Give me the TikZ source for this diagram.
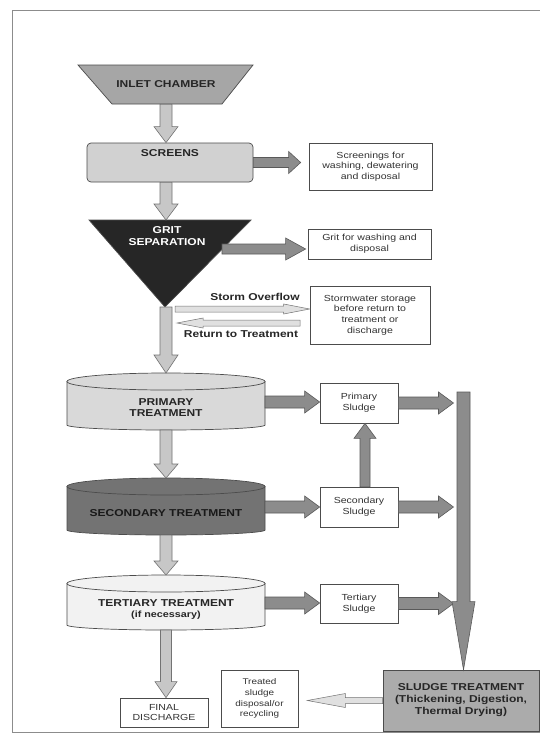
\documentclass[tikz,border=0pt]{standalone}
\usepackage{fontspec}
\setmainfont{Liberation Sans}[FakeStretch=1.2]
\usetikzlibrary{calc}

% block arrows: #1 from, #2 to, #3 shaft half width, #4 head half width, #5 head length, #6 style
\newcommand\arrD[6]{\path[#6] let \p1=(#1), \p2=(#2) in
 ({\x1-#3},\y1) -- ({\x1-#3},{\y2+#5}) -- ({\x1-#4},{\y2+#5}) -- (\x1,\y2) -- ({\x1+#4},{\y2+#5}) -- ({\x1+#3},{\y2+#5}) -- ({\x1+#3},\y1) -- cycle;}
\newcommand\arrU[6]{\path[#6] let \p1=(#1), \p2=(#2) in
 ({\x1-#3},\y1) -- ({\x1-#3},{\y2-#5}) -- ({\x1-#4},{\y2-#5}) -- (\x1,\y2) -- ({\x1+#4},{\y2-#5}) -- ({\x1+#3},{\y2-#5}) -- ({\x1+#3},\y1) -- cycle;}
\newcommand\arrR[6]{\path[#6] let \p1=(#1), \p2=(#2) in
 (\x1,{\y1+#3}) -- ({\x2-#5},{\y1+#3}) -- ({\x2-#5},{\y1+#4}) -- (\x2,\y1) -- ({\x2-#5},{\y1-#4}) -- ({\x2-#5},{\y1-#3}) -- (\x1,{\y1-#3}) -- cycle;}
\newcommand\arrL[6]{\path[#6] let \p1=(#1), \p2=(#2) in
 (\x1,{\y1+#3}) -- ({\x2+#5},{\y1+#3}) -- ({\x2+#5},{\y1+#4}) -- (\x2,\y1) -- ({\x2+#5},{\y1-#4}) -- ({\x2+#5},{\y1-#3}) -- (\x1,{\y1-#3}) -- cycle;}

\tikzset{
 lbl/.style={font=\bfseries\fontsize{10}{11.5}\selectfont, align=center, inner sep=0pt, text=black!85},
 small/.style={font=\fontsize{8.8}{10.6}\selectfont, align=center, inner sep=0pt, text=black!80},
 box/.style={draw=black!70, line width=0.7pt, fill=white, inner sep=0pt, align=center},
 shapeline/.style={draw=black!70, line width=0.7pt},
 colarrow/.style={fill=black!22, draw=black!55, line width=0.6pt},
 sarrow/.style={fill=black!45, draw=black!65, line width=0.6pt},
 thinarrow/.style={fill=black!12, draw=black!55, line width=0.5pt},
}

\begin{document}
\begin{tikzpicture}[x=1pt,y=-1pt]
\useasboundingbox (0,0) rectangle (540,734);
\fill[white] (0,0) rectangle (540,734);
% frame
\draw[black!45, line width=1.2pt] (541,10.5) -- (12.5,10.5) -- (12.5,732.5) -- (541,732.5);

% ---- shapes ----
\filldraw[shapeline, fill=black!35] (78,65) -- (253,65) -- (222,104) -- (112,104) -- cycle;
\node[lbl, minimum width=110pt, minimum height=39pt] (inlet) at (166,84.5) {INLET CHAMBER};

\node[draw=black!70, line width=0.7pt, fill=black!18, rounded corners=4pt, minimum width=166pt, minimum height=39pt, inner sep=0pt] (screens) at (170,162.5) {};
\node[lbl] (screenstxt) at (170,153) {SCREENS};

\filldraw[shapeline, fill=black!85] (89,220) -- (251,220) -- (165,307) -- cycle;
\coordinate (grittop) at (166,220);
\coordinate (gritapex) at (166,307);
\coordinate (gritR) at (222,249);
\node[lbl, text=white] (grit) at (167,236) {GRIT\\SEPARATION};

% cylinders
\filldraw[shapeline, fill=black!15] (67,381.5) -- (67,425) arc[start angle=180, end angle=0, x radius=99, y radius=5] -- (265,381.5) -- cycle;
\filldraw[shapeline, fill=black!15] (166,381.5) ellipse [x radius=99, y radius=8.5];
\coordinate (primtop) at (166,373);
\coordinate (primbot) at (166,430);
\node[lbl] (prim) at (166,407.5) {PRIMARY\\TREATMENT};

\filldraw[shapeline, fill=black!55] (67,486.5) -- (67,530) arc[start angle=180, end angle=0, x radius=99, y radius=5] -- (265,486.5) -- cycle;
\filldraw[shapeline, fill=black!55] (166,486.5) ellipse [x radius=99, y radius=8.5];
\coordinate (sectop) at (166,478);
\coordinate (secbot) at (166,535);
\node[lbl, text=black!90] (sec) at (166,513) {SECONDARY TREATMENT};

\filldraw[shapeline, fill=black!5] (67,583.5) -- (67,625) arc[start angle=180, end angle=0, x radius=99, y radius=5] -- (265,583.5) -- cycle;
\filldraw[shapeline, fill=black!5] (166,583.5) ellipse [x radius=99, y radius=8.5];
\coordinate (tertop) at (166,575);
\coordinate (terbot) at (166,630);
\node[lbl] (ter) at (166,603) {TERTIARY TREATMENT};
\node[lbl, font=\bfseries\fontsize{9}{10}\selectfont] (tern) at (166,615.5) {(if necessary)};

% boxes
\node[box, minimum width=123pt, minimum height=47pt] (scrbox) at (370.5,166.5) {};
\node[small] at (scrbox) {Screenings for\\washing, dewatering\\and disposal};
\node[box, minimum width=123pt, minimum height=30pt] (gritbox) at (369.5,244) {};
\node[small] at (gritbox) {Grit for washing and\\disposal};
\node[box, minimum width=120pt, minimum height=58pt] (storm) at (370,315) {};
\node[small] at (storm) {Stormwater storage\\before return to\\treatment or\\discharge};
\node[box, minimum width=78pt, minimum height=40pt] (psl) at (359,403) {};
\node[small] at (psl) {Primary\\Sludge};
\node[box, minimum width=78pt, minimum height=40pt] (ssl) at (359,507) {};
\node[small] at (ssl) {Secondary\\Sludge};
\node[box, minimum width=78pt, minimum height=39pt] (tsl) at (359,603.5) {};
\node[small] at (tsl) {Tertiary\\Sludge};
\node[box, minimum width=88pt, minimum height=29pt] (final) at (164,712.5) {};
\node[small] at (final) {FINAL\\DISCHARGE};
\node[box, minimum width=77pt, minimum height=57pt] (treated) at (259.5,698.5) {};
\node[small, font=\fontsize{8.3}{10.8}\selectfont] at (treated) {Treated\\sludge\\disposal/or\\recycling};
\node[box, fill=black!33, minimum width=156pt, minimum height=61pt] (sludge) at (461,700.5) {};
\node[lbl, font=\bfseries\fontsize{10}{12}\selectfont] at (sludge) {SLUDGE TREATMENT\\(Thickening, Digestion,\\Thermal Drying)};

% ---- labels ----
\node[lbl] (stormlbl) at (255,297) {Storm Overflow};
\node[lbl] (retlbl) at (241,334) {Return to Treatment};

% ---- coordinates ----
\coordinate (bartop) at (463.5,392);
\coordinate (stormA) at (175,309);
\coordinate (retA) at (300,323);
\coordinate (retB) at (177,323);

% ---- arrows ----
\arrD{inlet.south}{screens.north -| inlet.south}{6pt}{12pt}{16pt}{colarrow}
\arrD{screens.south -| inlet.south}{grittop}{6pt}{12pt}{16pt}{colarrow}
\arrD{gritapex}{primtop}{6pt}{12pt}{18pt}{colarrow}
\arrD{primbot}{sectop}{6pt}{12pt}{14pt}{colarrow}
\arrD{secbot}{tertop}{6pt}{12pt}{14pt}{colarrow}
\arrD{terbot}{final.north}{5.5pt}{11pt}{16pt}{colarrow}

\arrR{screens.east}{$(scrbox.west)+(-8,0)$}{5pt}{11pt}{12pt}{sarrow}
\arrR{gritR}{$(gritbox.west)+(-2,0)$}{5pt}{11pt}{20pt}{sarrow}
\arrR{stormA}{storm.west}{3pt}{5pt}{26pt}{thinarrow}
\arrL{retA}{retB}{3pt}{5pt}{26pt}{thinarrow}

\arrR{265,402}{psl.west}{6pt}{11pt}{15pt}{sarrow}
\arrR{265,507}{ssl.west}{6pt}{11pt}{15pt}{sarrow}
\arrR{265,603}{tsl.west}{6pt}{11pt}{15pt}{sarrow}
\arrR{psl.east}{$(bartop)+(-10,0)$}{6pt}{11pt}{15pt}{sarrow}
\arrR{ssl.east}{$(bartop)+(-10,0)$}{6pt}{11pt}{15pt}{sarrow}
\arrR{tsl.east}{$(bartop)+(-10,0)$}{6pt}{11pt}{15pt}{sarrow}
\arrU{$(ssl.north)+(6,0)$}{psl.south}{5pt}{11pt}{15pt}{sarrow}
\arrD{bartop}{sludge.north}{6.5pt}{11.5pt}{68pt}{sarrow}
\arrL{sludge.west}{$(treated.east)+(9,0)$}{3pt}{7pt}{38pt}{thinarrow}
\end{tikzpicture}
\end{document}
